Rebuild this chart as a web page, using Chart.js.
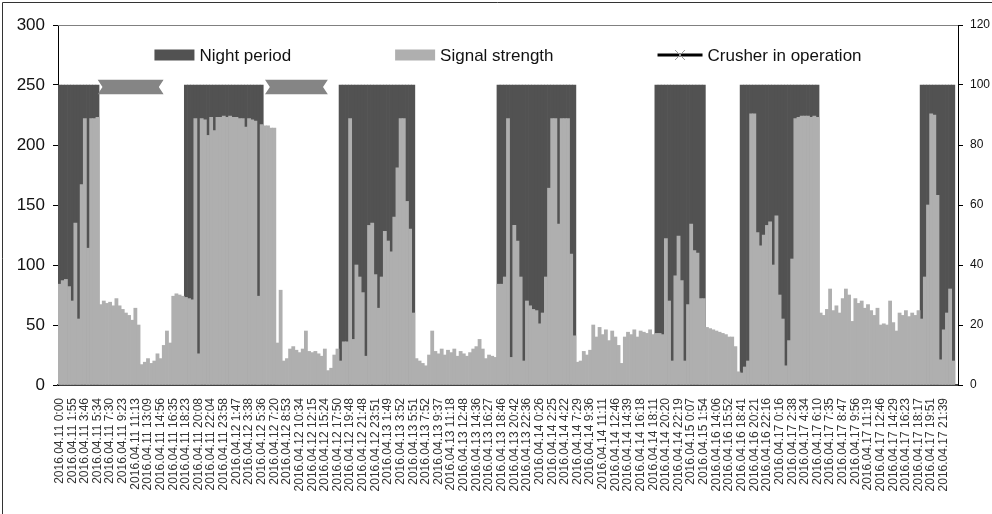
<!DOCTYPE html>
<html>
<head>
<meta charset="utf-8">
<script src="https://cdn.jsdelivr.net/npm/chart.js@4"></script>
<style>
  html, body { margin: 0; padding: 0; background: #fff; }
  #wrap { width: 992px; height: 514px; position: relative; }
</style>
</head>
<body>
<div id="wrap"><canvas id="chart"></canvas></div>
<script>
// tick labels, one every 4 samples
const timeLabels = [
  '2016.04.11 0:00', '2016.04.11 1:55', '2016.04.11 3:46', '2016.04.11 5:34', '2016.04.11 7:30',
  '2016.04.11 9:23', '2016.04.11 11:13', '2016.04.11 13:09', '2016.04.11 14:56', '2016.04.11 16:35',
  '2016.04.11 18:23', '2016.04.11 20:08', '2016.04.11 22:04', '2016.04.11 23:58',
  '2016.04.12 1:47', '2016.04.12 3:38', '2016.04.12 5:36', '2016.04.12 7:20', '2016.04.12 8:53',
  '2016.04.12 10:34', '2016.04.12 12:15', '2016.04.12 15:24', '2016.04.12 17:50', '2016.04.12 19:48',
  '2016.04.12 21:48', '2016.04.12 23:51',
  '2016.04.13 1:49', '2016.04.13 3:52', '2016.04.13 5:51', '2016.04.13 7:52', '2016.04.13 9:37',
  '2016.04.13 11:18', '2016.04.13 12:48', '2016.04.13 14:36', '2016.04.13 16:27', '2016.04.13 18:46',
  '2016.04.13 20:42', '2016.04.13 22:36',
  '2016.04.14 0:26', '2016.04.14 2:25', '2016.04.14 4:22', '2016.04.14 7:29', '2016.04.14 9:36',
  '2016.04.14 11:11', '2016.04.14 12:46', '2016.04.14 14:39', '2016.04.14 16:18', '2016.04.14 18:11',
  '2016.04.14 20:20', '2016.04.14 22:19',
  '2016.04.15 0:07', '2016.04.15 1:54',
  '2016.04.16 14:06', '2016.04.16 15:52', '2016.04.16 18:41', '2016.04.16 20:21', '2016.04.16 22:16',
  '2016.04.17 0:16', '2016.04.17 2:38', '2016.04.17 4:34', '2016.04.17 6:10', '2016.04.17 7:35',
  '2016.04.17 8:47', '2016.04.17 9:56', '2016.04.17 11:19', '2016.04.17 12:46', '2016.04.17 14:29',
  '2016.04.17 16:23', '2016.04.17 18:17', '2016.04.17 19:51', '2016.04.17 21:39'
];

// signal strength (left axis)
const signalStrength = [
  84, 87, 88, 82, 70, 135, 55, 167, 222, 114, 222, 222, 223, 67, 70, 68, 69, 66, 72, 66,
  63, 60, 58, 54, 64, 50, 17, 19, 22, 18, 20, 26, 22, 33, 45, 35, 74, 76, 75, 74,
  73, 72, 71, 222, 26, 222, 221, 208, 223, 212, 223, 223, 224, 223, 224, 223, 223, 222, 222, 215,
  222, 221, 220, 74, 217, 216, 216, 214, 214, 35, 79, 20, 22, 30, 32, 29, 27, 30, 45, 28,
  27, 28, 26, 24, 30, 12, 14, 25, 30, 20, 36, 36, 222, 38, 100, 90, 77, 24, 133, 135,
  92, 64, 90, 128, 120, 111, 140, 181, 222, 222, 153, 130, 60, 22, 20, 18, 16, 25, 45, 28,
  26, 30, 25, 29, 27, 30, 24, 28, 26, 24, 27, 30, 32, 38, 30, 22, 25, 24, 23, 84,
  84, 90, 222, 23, 133, 120, 90, 20, 70, 66, 63, 62, 51, 60, 90, 164, 222, 222, 134, 222,
  222, 222, 109, 41, 19, 20, 28, 25, 29, 50, 40, 48, 42, 46, 37, 45, 40, 33, 18, 40,
  44, 42, 46, 40, 45, 44, 43, 46, 42, 43, 43, 42, 122, 70, 20, 91, 124, 87, 20, 67,
  134, 112, 110, 72, 72, 48, 47, 46, 45, 44, 43, 42, 40, 40, 32, 11, 10, 15, 20, 226,
  226, 127, 116, 125, 133, 136, 100, 141, 75, 55, 16, 37, 105, 222, 223, 224, 224, 224, 223, 224,
  223, 60, 58, 63, 80, 62, 66, 60, 72, 80, 75, 53, 72, 68, 70, 64, 67, 62, 58, 64,
  50, 51, 50, 70, 52, 45, 60, 58, 62, 57, 60, 58, 62, 55, 90, 150, 226, 225, 158, 21,
  46, 60, 80, 20, 10
];

// night period (right axis, 100 = night)
const nightPeriod = [
  100, 100, 100, 100, 100, 100, 100, 100, 100, 100, 100, 100, 100, 0, 0, 0, 0, 0, 0, 0,
  0, 0, 0, 0, 0, 0, 0, 0, 0, 0, 0, 0, 0, 0, 0, 0, 0, 0, 0, 0,
  100, 100, 100, 100, 100, 100, 100, 100, 100, 100, 100, 100, 100, 100, 100, 100, 100, 100, 100, 100,
  100, 100, 100, 100, 100, 0, 0, 0, 0, 0, 0, 0, 0, 0, 0, 0, 0, 0, 0, 0,
  0, 0, 0, 0, 0, 0, 0, 0, 0, 100, 100, 100, 100, 100, 100, 100, 100, 100, 100, 100,
  100, 100, 100, 100, 100, 100, 100, 100, 100, 100, 100, 100, 100, 0, 0, 0, 0, 0, 0, 0,
  0, 0, 0, 0, 0, 0, 0, 0, 0, 0, 0, 0, 0, 0, 0, 0, 0, 0, 0, 100,
  100, 100, 100, 100, 100, 100, 100, 100, 100, 100, 100, 100, 100, 100, 100, 100, 100, 100, 100, 100,
  100, 100, 100, 100, 0, 0, 0, 0, 0, 0, 0, 0, 0, 0, 0, 0, 0, 0, 0, 0,
  0, 0, 0, 0, 0, 0, 0, 0, 0, 100, 100, 100, 100, 100, 100, 100, 100, 100, 100, 100,
  100, 100, 100, 100, 100, 0, 0, 0, 0, 0, 0, 0, 0, 0, 0, 0, 100, 100, 100, 100,
  100, 100, 100, 100, 100, 100, 100, 100, 100, 100, 100, 100, 100, 100, 100, 100, 100, 100, 100, 100,
  100, 0, 0, 0, 0, 0, 0, 0, 0, 0, 0, 0, 0, 0, 0, 0, 0, 0, 0, 0,
  0, 0, 0, 0, 0, 0, 0, 0, 0, 0, 0, 0, 0, 100, 100, 100, 100, 100, 100, 100,
  100, 100, 100, 100, 100
];

// crusher in operation (right axis), null = off
const _ = null;
const crusherOn = [
  _, _, _, _, _, _, _, _, _, _, _, _, 99.3, 99.3, 99.3, 99.3, 99.3, 99.3, 99.3, 99.3,
  99.3, 99.3, 99.3, 99.3, 99.3, 99.3, 99.3, 99.3, 99.3, 99.3, 99.3, 99.3, 99.3, 99.3, _, _, _, _, _, _,
  _, _, _, _, _, _, _, _, _, _, _, _, _, _, _, _, _, _, _, _,
  _, _, _, _, _, 99.3, 99.3, 99.3, 99.3, 99.3, 99.3, 99.3, 99.3, 99.3, 99.3, 99.3, 99.3, 99.3, 99.3, 99.3,
  99.3, 99.3, 99.3, 99.3, 99.3, 99.3
];

const axisLabels = signalStrength.map((v, i) => (i % 4 === 0 ? timeLabels[i / 4] : ''));

const FONT = '"Liberation Sans", Arial, sans-serif';

// cut ribbon-like notches into the ends of the crusher bars
const ribbonEnds = {
  id: 'ribbonEnds',
  beforeDatasetDraw(chart, args) {
    const ds = chart.data.datasets[args.index];
    if (ds.type !== 'line') return;
    const pts = args.meta.data;
    const half = ds.borderWidth / 2, notch = 5;
    const ctx = chart.ctx;
    ctx.save();
    ctx.beginPath();
    let start = null;
    for (let i = 0; i <= pts.length; i++) {
      const on = i < pts.length && ds.data[i] !== null;
      if (on && start === null) start = i;
      if (!on && start !== null) {
        const a = pts[start], b = pts[i - 1];
        ctx.moveTo(a.x, a.y - half);
        ctx.lineTo(b.x, b.y - half);
        ctx.lineTo(b.x - notch, b.y);
        ctx.lineTo(b.x, b.y + half);
        ctx.lineTo(a.x, a.y + half);
        ctx.lineTo(a.x + notch, a.y);
        ctx.closePath();
        start = null;
      }
    }
    ctx.clip();
  },
  afterDatasetDraw(chart, args) {
    if (chart.data.datasets[args.index].type === 'line') chart.ctx.restore();
  }
};

// legend drawn inside the plot, like the excel one
const insideLegend = {
  id: 'insideLegend',
  afterDraw(chart) {
    const ctx = chart.ctx;
    const area = chart.chartArea;
    ctx.save();
    // frame of the picture + top line of the plot
    ctx.strokeStyle = '#333';
    ctx.lineWidth = 1;
    ctx.beginPath();
    ctx.moveTo(2.5, chart.height);
    ctx.lineTo(2.5, 2.5);
    ctx.lineTo(chart.width, 2.5);
    ctx.stroke();
    ctx.strokeStyle = '#808080';
    ctx.beginPath();
    ctx.moveTo(area.left, Math.round(area.top) + 0.5);
    ctx.lineTo(area.right, Math.round(area.top) + 0.5);
    ctx.stroke();

    ctx.font = '17px ' + FONT;
    ctx.textBaseline = 'middle';
    const sets = chart.data.datasets;
    const boxW = [40, 40, 45];
    const gap = 5, spacing = 104;
    const widths = sets.map((ds, i) => boxW[i] + gap + ctx.measureText(ds.label).width);
    const total = widths.reduce((a, b) => a + b, 0) + spacing * (sets.length - 1);
    let x = (area.left + area.right) / 2 - total / 2;
    const y = area.top + 30;
    sets.forEach((ds, i) => {
      if (ds.type === 'line') {
        ctx.strokeStyle = '#000';
        ctx.lineWidth = 3;
        ctx.beginPath();
        ctx.moveTo(x, y);
        ctx.lineTo(x + boxW[i], y);
        ctx.stroke();
        const cx = x + boxW[i] / 2;
        ctx.strokeStyle = '#999';
        ctx.lineWidth = 1;
        ctx.beginPath();
        ctx.moveTo(cx - 5, y - 5); ctx.lineTo(cx + 5, y + 5);
        ctx.moveTo(cx - 5, y + 5); ctx.lineTo(cx + 5, y - 5);
        ctx.stroke();
      } else {
        ctx.fillStyle = ds.backgroundColor;
        ctx.fillRect(x, y - 5.5, boxW[i], 11);
      }
      ctx.fillStyle = '#111';
      ctx.fillText(ds.label, x + boxW[i] + gap, y + 1);
      x += widths[i] + spacing;
    });
    ctx.restore();
  }
};

new Chart(document.getElementById('chart'), {
  type: 'bar',
  data: {
    labels: axisLabels,
    datasets: [
      {
        label: 'Night period',
        data: nightPeriod,
        yAxisID: 'y1',
        backgroundColor: '#525252',
        borderWidth: 0,
        order: 3
      },
      {
        label: 'Signal strength',
        data: signalStrength,
        yAxisID: 'y',
        backgroundColor: '#afafaf',
        borderWidth: 0,
        order: 2
      },
      {
        type: 'line',
        label: 'Crusher in operation',
        data: crusherOn,
        yAxisID: 'y1',
        borderColor: '#858585',
        borderWidth: 15,
        borderCapStyle: 'butt',
        pointRadius: 0,
        spanGaps: false,
        order: 1
      }
    ]
  },
  options: {
    responsive: true,
    maintainAspectRatio: false,
    animation: false,
    devicePixelRatio: 1,
    layout: { padding: { left: 0, right: 0, top: 25, bottom: 0 } },
    datasets: {
      bar: { barPercentage: 1, categoryPercentage: 1, grouped: false }
    },
    plugins: {
      legend: { display: false },
      tooltip: { enabled: false }
    },
    scales: {
      x: {
        grid: { display: false },
        border: { display: true, color: '#404040', width: 2 },
        ticks: {
          autoSkip: false,
          maxRotation: 90,
          minRotation: 90,
          padding: 5,
          color: '#333',
          font: { family: FONT, size: 12 }
        },
        afterFit: (s) => { s.height = 129; }
      },
      y: {
        position: 'left',
        min: 0,
        max: 300,
        ticks: { stepSize: 50, padding: 8, color: '#111', font: { family: FONT, size: 17 } },
        grid: { drawOnChartArea: false, tickLength: 5, color: '#000' },
        border: { color: '#000', width: 1 },
        afterFit: (s) => { s.width = 58; }
      },
      y1: {
        position: 'right',
        min: 0,
        max: 120,
        ticks: { stepSize: 20, padding: 7, color: '#111', font: { family: FONT, size: 12 } },
        grid: { drawOnChartArea: false, tickLength: 5, color: '#000' },
        border: { color: '#000', width: 1 },
        afterFit: (s) => { s.width = 34; }
      }
    }
  },
  plugins: [ribbonEnds, insideLegend]
});
</script>
</body>
</html>
